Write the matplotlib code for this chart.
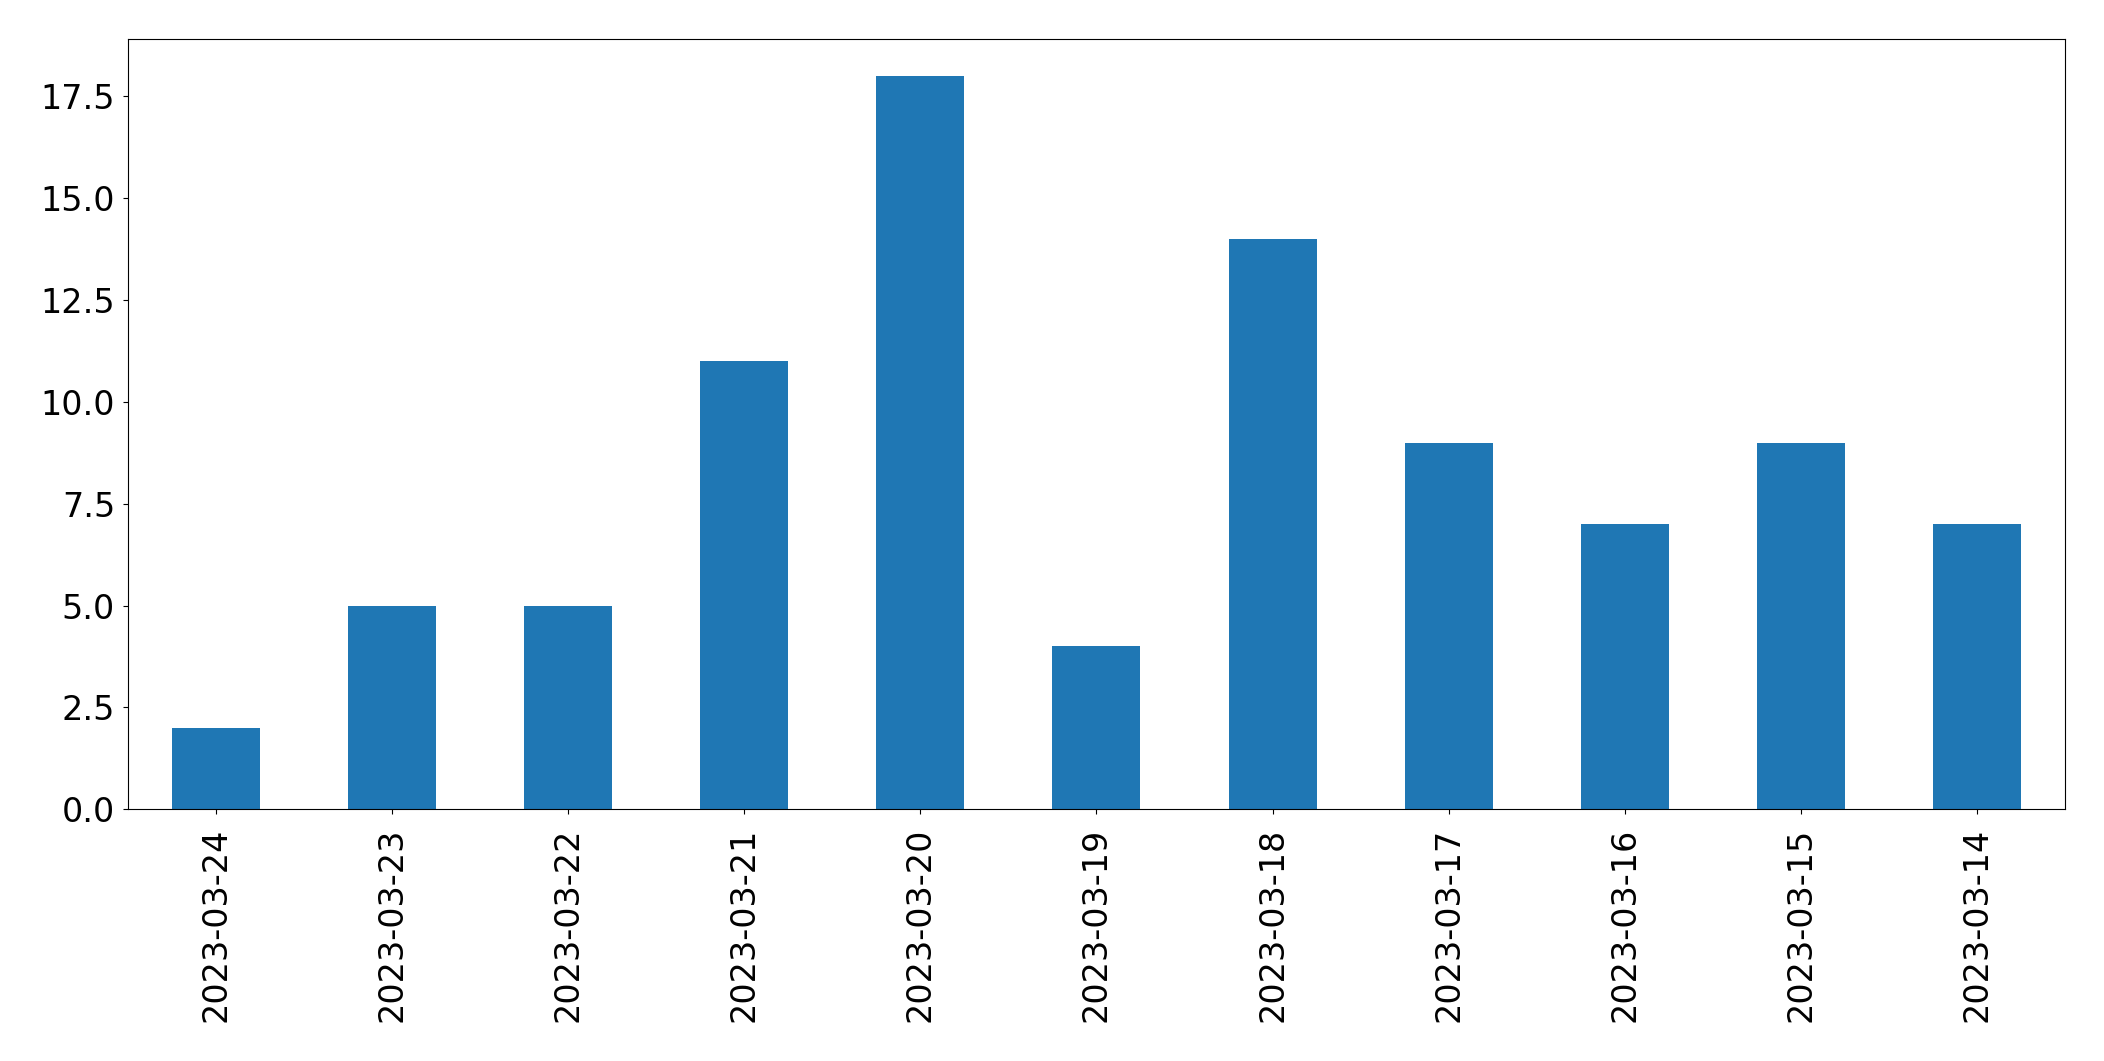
import pandas as pd
import matplotlib
matplotlib.use("Agg")
import matplotlib.pyplot as plt

# daily counts, newest first
dates = ["2023-03-24", "2023-03-23", "2023-03-22", "2023-03-21", "2023-03-20",
         "2023-03-19", "2023-03-18", "2023-03-17", "2023-03-16", "2023-03-15",
         "2023-03-14"]
counts = [2, 5, 5, 11, 18, 4, 14, 9, 7, 9, 7]

s = pd.Series(counts, index=dates)

plt.rcParams["font.size"] = 24
fig, ax = plt.subplots(figsize=(21.04, 10.61), dpi=100)
s.plot(kind="bar", ax=ax, color="#1f77b4")
ax.tick_params(axis="x", pad=9.5)
ax.tick_params(axis="y", pad=5.5)
plt.subplots_adjust(left=0.0606, right=0.9816, top=0.963, bottom=0.2372)
plt.savefig("out.png")
plt.close()
